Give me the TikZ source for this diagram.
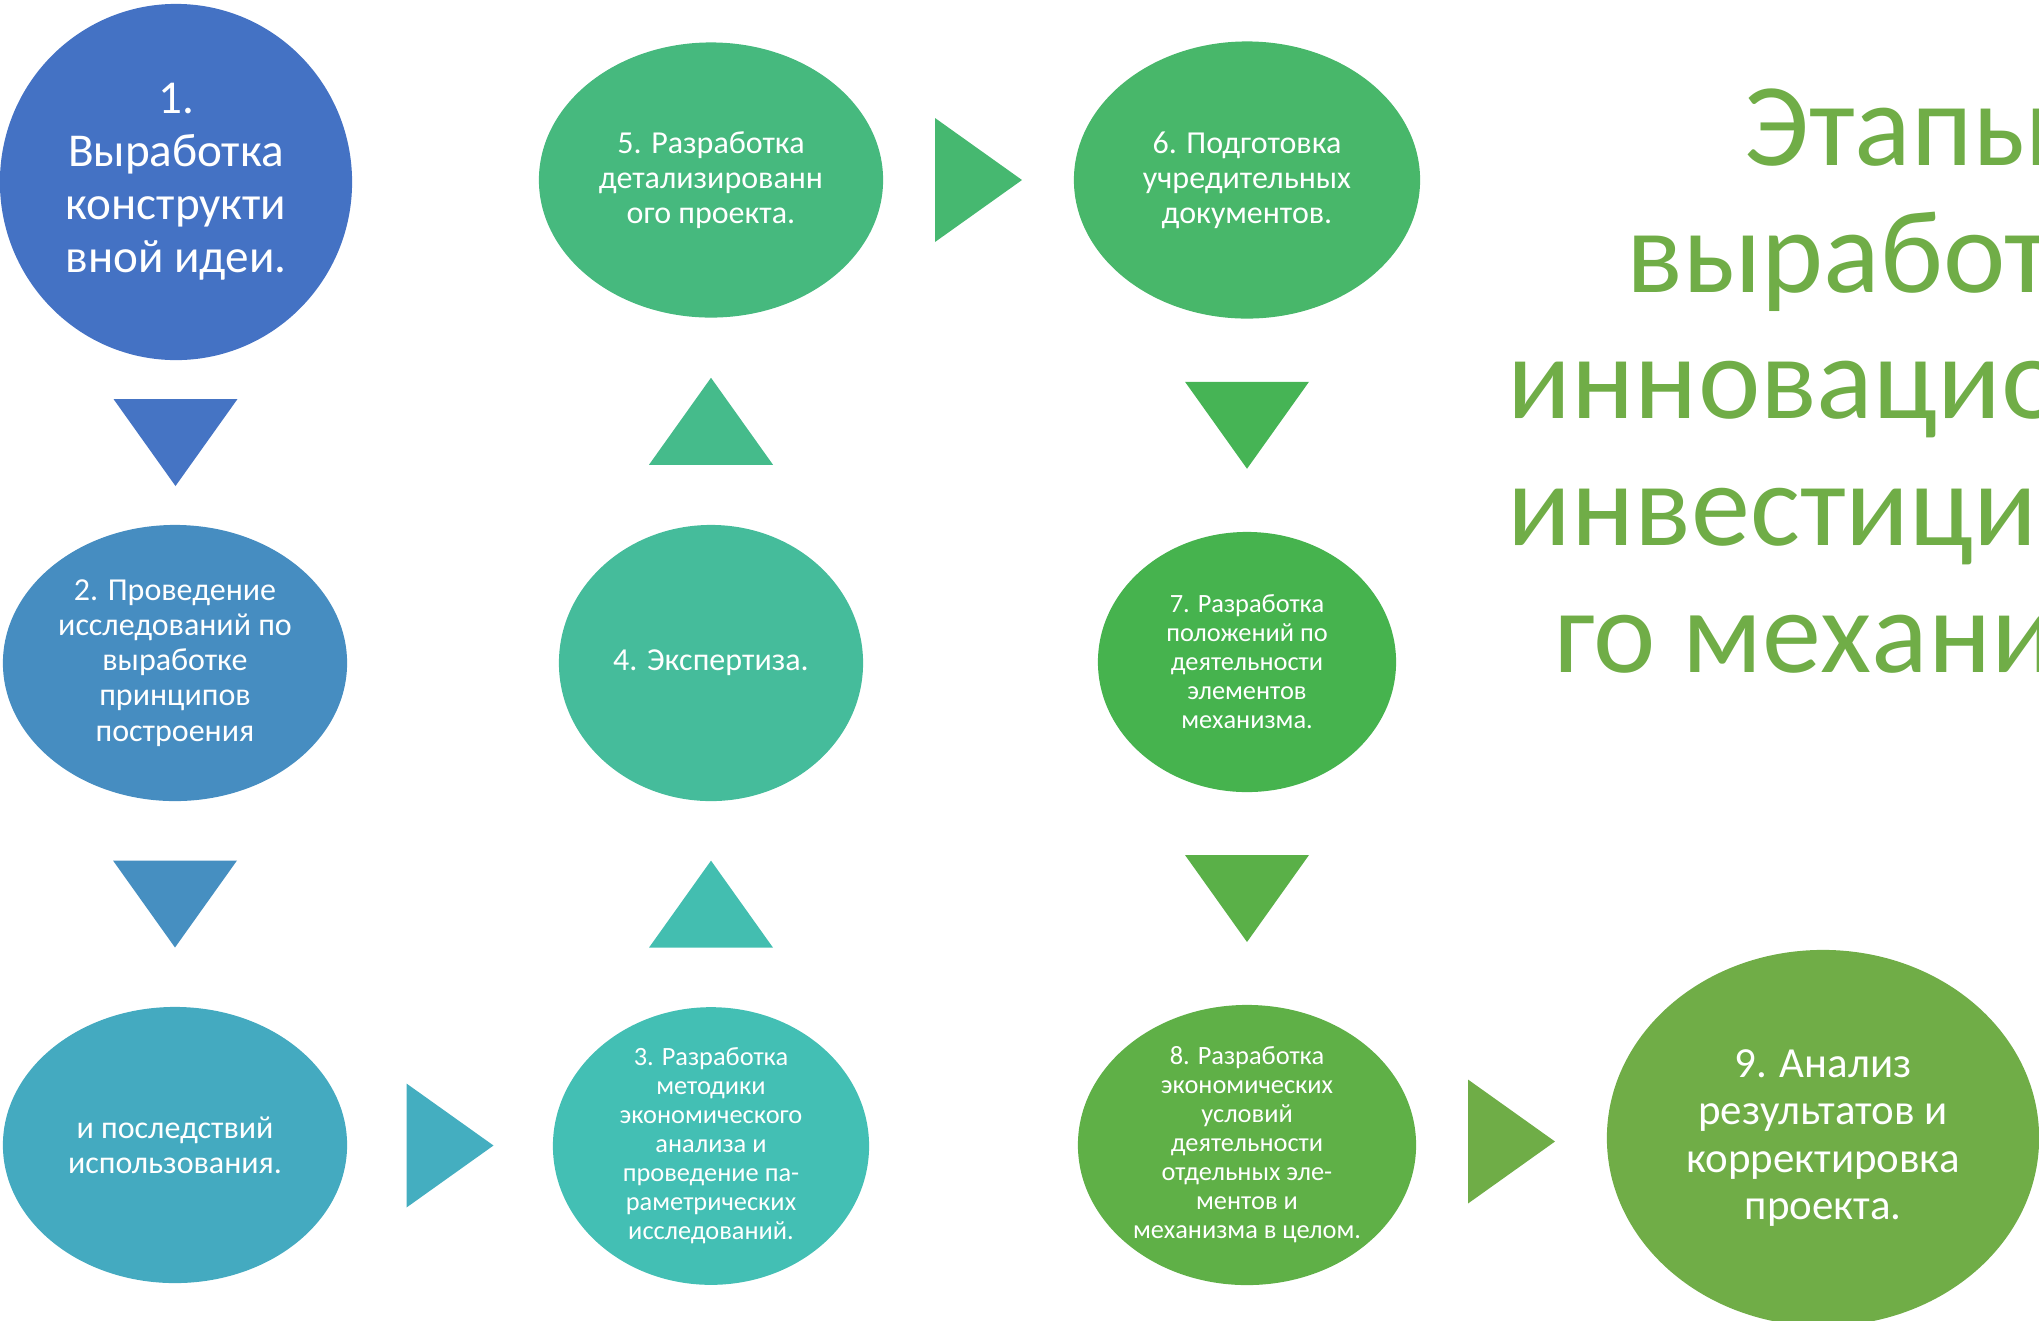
\documentclass[tikz,border=0pt]{standalone}
\usepackage{fontspec}
\setmainfont{Carlito}
\usetikzlibrary{calc,shapes.geometric}

\definecolor{st1}{HTML}{4472C4}
\definecolor{st2}{HTML}{468DC1}
\definecolor{st3}{HTML}{44AAC0}
\definecolor{st4}{HTML}{43BFB4}
\definecolor{st5}{HTML}{45BC9B}
\definecolor{st6}{HTML}{46B97E}
\definecolor{st7}{HTML}{48B76A}
\definecolor{st8}{HTML}{46B34E}
\definecolor{st9}{HTML}{5FB047}
\definecolor{st10}{HTML}{70AD47}
\definecolor{ar1}{HTML}{4574C4}
\definecolor{ar2}{HTML}{468FC1}
\definecolor{ar3}{HTML}{44AEC0}
\definecolor{ar4}{HTML}{43BEB0}
\definecolor{ar5}{HTML}{45BB8B}
\definecolor{ar6}{HTML}{46B870}
\definecolor{ar7}{HTML}{46B455}
\definecolor{ar8}{HTML}{5AB048}
\definecolor{ar9}{HTML}{6FAD47}

\tikzset{
  stage/.style={ellipse, inner sep=0pt, text=white, align=center},
  bigtext/.style={font=\fontsize{13.4pt}{15.1pt}\selectfont},
  midtext/.style={font=\fontsize{9.1pt}{10pt}\selectfont},
  smalltext/.style={font=\fontsize{7.5pt}{8.25pt}\selectfont},
  ninetext/.style={font=\fontsize{12.2pt}{13.4pt}\selectfont},
  headline/.style={text=st10, align=center, font=\fontsize{33.6pt}{36pt}\selectfont}
}

\begin{document}
\begin{tikzpicture}[x=0.01cm,y=-0.01cm]

\useasboundingbox (0,0) rectangle (2039,1320);

\pgfmathsetmacro{\tw}{62}
\pgfmathsetmacro{\th}{43.5}

\node[stage,bigtext,fill=st1,minimum width=3.52cm,minimum height=3.56cm] (e1) at (176,182) {1.\\Выработка\\конструкти\\вной идеи.};
\node[stage,midtext,fill=st2,minimum width=3.44cm,minimum height=2.76cm] (e2) at (175,663) {2. Проведение\\исследований по\\выработке\\принципов\\построения};
\node[stage,midtext,fill=st3,minimum width=3.44cm,minimum height=2.76cm] (e2b) at (175,1145) {и последствий\\использования.};
\node[stage,smalltext,fill=st4,minimum width=3.16cm,minimum height=2.70cm] (e3) at (711,1146) {3. Разработка\\методики\\экономического\\анализа и\\проведение па-\\раметрических\\исследований.};
\node[stage,midtext,fill=st5,minimum width=3.04cm,minimum height=2.76cm] (e4) at (711,663) {4. Экспертиза.};
\node[stage,midtext,fill=st6,minimum width=3.44cm,minimum height=2.75cm] (e5) at (711,180) {5. Разработка\\детализированн\\ого проекта.};
\node[stage,midtext,fill=st7,minimum width=3.46cm,minimum height=2.77cm] (e6) at (1247,180) {6. Подготовка\\учредительных\\документов.};
\node[stage,smalltext,fill=st8,minimum width=2.98cm,minimum height=2.60cm] (e7) at (1247,662) {7. Разработка\\положений по\\деятельности\\элементов\\механизма.};
\node[stage,smalltext,fill=st9,minimum width=3.38cm,minimum height=2.80cm] (e8) at (1247,1145) {8. Разработка\\экономических\\условий\\деятельности\\отдельных эле-\\ментов и\\механизма в целом.};
\node[stage,ninetext,fill=st10,minimum width=4.32cm,minimum height=3.76cm] (e9) at (1823,1138) {9. Анализ\\результатов и\\корректировка\\проекта.};

\coordinate (m12) at ($(e1.south)!0.5!(e2.north)$);
\coordinate (m22) at ($(e2.south)!0.5!(e2b.north)$);
\coordinate (m23) at ($(e2b.east)!0.5!(e3.west)$);
\coordinate (m34) at ($(e3.north)!0.5!(e4.south)$);
\coordinate (m45) at ($(e4.north)!0.5!(e5.south)$);
\coordinate (m56) at ($(e5.east)!0.5!(e6.west)$);
\coordinate (m67) at ($(e6.south)!0.5!(e7.north)$);
\coordinate (m78) at ($(e7.south)!0.5!(e8.north)$);
\coordinate (m89) at ($(e8.east)!0.5!(e9.west)$);

\fill[ar1] ($(m12)+(-\tw,-\th)$) -- ($(m12)+(\tw,-\th)$) -- ($(m12)+(0,\th)$) -- cycle;
\fill[ar2] ($(m22)+(-\tw,-\th)$) -- ($(m22)+(\tw,-\th)$) -- ($(m22)+(0,\th)$) -- cycle;
\fill[ar3] ($(m23)+(-\th,-\tw)$) -- ($(m23)+(-\th,\tw)$) -- ($(m23)+(\th,0)$) -- cycle;
\fill[ar4] ($(m34)+(-\tw,\th)$) -- ($(m34)+(\tw,\th)$) -- ($(m34)+(0,-\th)$) -- cycle;
\fill[ar5] ($(m45)+(-\tw,\th)$) -- ($(m45)+(\tw,\th)$) -- ($(m45)+(0,-\th)$) -- cycle;
\fill[ar6] ($(m56)+(-\th,-\tw)$) -- ($(m56)+(-\th,\tw)$) -- ($(m56)+(\th,0)$) -- cycle;
\fill[ar7] ($(m67)+(-\tw,-\th)$) -- ($(m67)+(\tw,-\th)$) -- ($(m67)+(0,\th)$) -- cycle;
\fill[ar8] ($(m78)+(-\tw,-\th)$) -- ($(m78)+(\tw,-\th)$) -- ($(m78)+(0,\th)$) -- cycle;
\fill[ar9] ($(m89)+(-\th,-\tw)$) -- ($(m89)+(-\th,\tw)$) -- ($(m89)+(\th,0)$) -- cycle;

\begin{scope}
\clip (0,0) rectangle (2039,1320);
\node[headline,anchor=base] (title) at (1898,672) {Этапы\\выработки\\инновационно-\\инвестиционно\\го механизма};
\end{scope}

\end{tikzpicture}
\end{document}
